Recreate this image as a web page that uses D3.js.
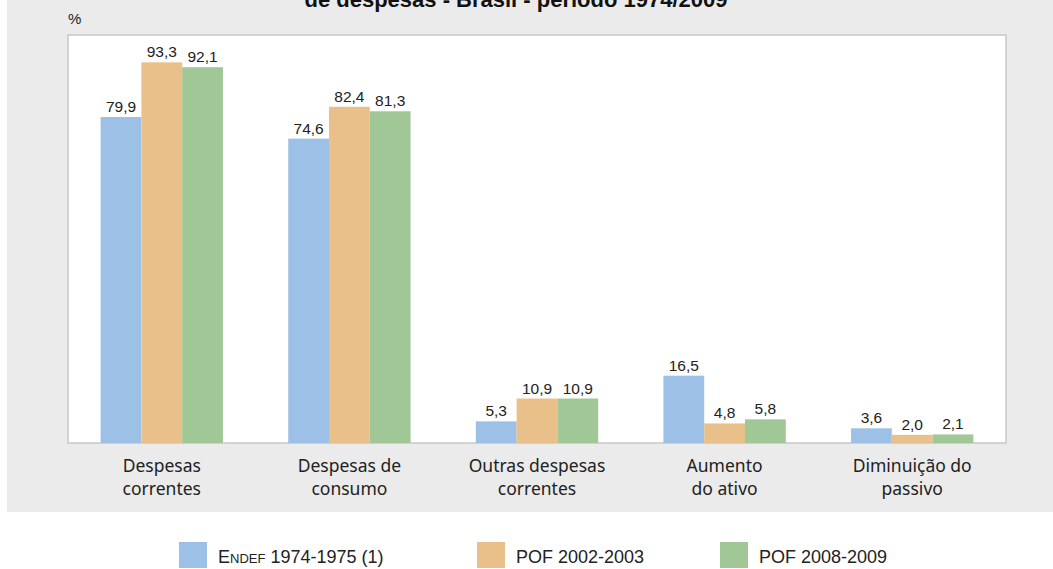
<!DOCTYPE html>
<html>
<head>
<meta charset="utf-8">
<script src="https://cdn.jsdelivr.net/npm/d3@7"></script>
<style>
  body { margin: 0; background: #fff; }
  svg { display: block; }
</style>
</head>
<body>
<div id="chart"></div>
<script>
// data
var categories = [['Despesas', 'correntes'], ['Despesas de', 'consumo'], ['Outras despesas', 'correntes'], ['Aumento', 'do ativo'], ['Diminuição do', 'passivo']];
var seriesNames = ['ENDEF 1974-1975 (1)', 'POF 2002-2003', 'POF 2008-2009'];
var endef = [79.9, 74.6, 5.3, 16.5, 3.6];
var pof2003 = [93.3, 82.4, 10.9, 4.8, 2.0];
var pof2009 = [92.1, 81.3, 10.9, 5.8, 2.1];
var colors = ['#9dc1e6', '#e9c08a', '#a2c797'];

var W = 1053, H = 569;
var margin = {top: 35, right: 47, bottom: 126, left: 68},
    width = W - margin.left - margin.right,
    height = H - margin.top - margin.bottom;

var svg = d3.select('#chart').append('svg')
    .attr('width', W)
    .attr('height', H);

// grey panel
svg.append('rect')
    .attr('x', 7).attr('y', 0)
    .attr('width', W - 7).attr('height', 512)
    .attr('fill', '#ebebeb');

// title is cropped at the top in the original too
svg.append('text')
    .attr('x', 516).attr('y', 7)
    .attr('text-anchor', 'middle')
    .attr('font-family', 'Liberation Sans, Arial, sans-serif')
    .attr('font-weight', 'bold')
    .attr('font-size', 22)
    .attr('fill', '#111')
    .text('de despesas - Brasil - período 1974/2009');

svg.append('text')
    .attr('x', 68).attr('y', 24)
    .attr('font-family', 'Liberation Sans, Arial, sans-serif')
    .attr('font-size', 15)
    .attr('fill', '#222')
    .text('%');

var g = svg.append('g')
    .attr('transform', 'translate(' + margin.left + ',' + margin.top + ')');

g.append('rect')
    .attr('x', 0).attr('y', 0)
    .attr('width', width).attr('height', height)
    .attr('fill', '#fff')
    .attr('stroke', '#c8c8c8')
    .attr('stroke-width', 1.5);

var x0 = d3.scaleBand().domain(d3.range(categories.length)).range([0, width]);
var x1 = d3.scaleBand().domain([0, 1, 2]).range([0, x0.bandwidth()]).paddingOuter(0.8).paddingInner(0);
var y = d3.scaleLinear().domain([0, 100]).range([height, 0]);

var series = [endef, pof2003, pof2009];
var fmt = function(v) { return d3.format('.1f')(v).replace('.', ','); };

categories.forEach(function(c, i) {
    var grp = g.append('g').attr('transform', 'translate(' + x0(i) + ',0)');
    series.forEach(function(s, j) {
        grp.append('rect')
            .attr('x', x1(j))
            .attr('y', y(s[i]))
            .attr('width', x1.bandwidth())
            .attr('height', height - y(s[i]))
            .attr('fill', colors[j]);
        grp.append('text')
            .attr('x', x1(j) + x1.bandwidth() / 2)
            .attr('y', y(s[i]) - 5)
            .attr('text-anchor', 'middle')
            .attr('font-family', 'Liberation Sans, Arial, sans-serif')
            .attr('font-size', 15.5)
            .attr('fill', '#222')
            .text(fmt(s[i]));
    });
    var lab = grp.append('text')
        .attr('text-anchor', 'middle')
        .attr('font-family', 'Noto Sans, Open Sans, sans-serif')
        .attr('font-size', 17.5)
        .attr('fill', '#222');
    c.forEach(function(line, k) {
        lab.append('tspan')
            .attr('x', x0.bandwidth() / 2)
            .attr('y', height + 29 + k * 23)
            .text(line);
    });
});

// legend
var legX = [179, 477, 720];
var leg = svg.append('g');
seriesNames.forEach(function(n, j) {
    leg.append('rect')
        .attr('x', legX[j]).attr('y', 542)
        .attr('width', 28).attr('height', 26)
        .attr('fill', colors[j]);
    var t = leg.append('text')
        .attr('x', legX[j] + 39).attr('y', 563)
        .attr('font-family', 'Liberation Sans, Arial, sans-serif')
        .attr('font-size', 18)
        .attr('fill', '#222');
    if (j === 0) {
        t.append('tspan').text('E');
        t.append('tspan').attr('font-size', 13).text('NDEF');
        t.append('tspan').text(' 1974-1975 (1)');
    } else {
        t.text(n);
    }
});
</script>
</body>
</html>
